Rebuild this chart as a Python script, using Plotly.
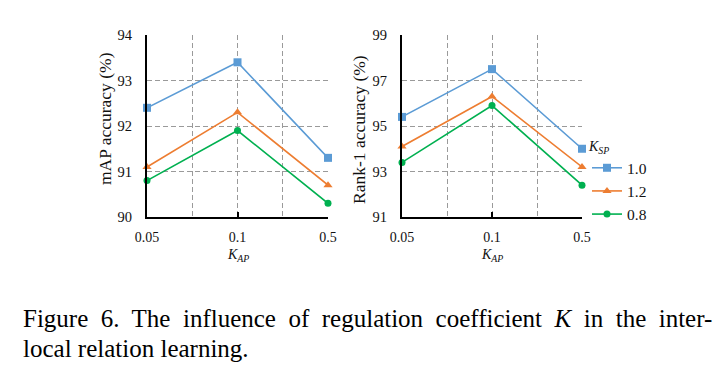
import plotly.graph_objects as go

k_ap = ["0.05", "0.1", "0.5"]
series_names = ["1.0", "1.2", "0.8"]
map_values = [
    [92.4, 93.4, 91.3],
    [91.1, 92.3, 90.7],
    [90.8, 91.9, 90.3],
]
rank1_values = [
    [95.4, 97.5, 94.0],
    [94.1, 96.3, 93.2],
    [93.4, 95.9, 92.4],
]
map_ticks = [90, 91, 92, 93, 94]
rank1_ticks = [91, 93, 95, 97, 99]
caption_line1 = "Figure 6. The influence of regulation coefficient <i>K</i> in the inter-"
caption_line2 = "local relation learning."

colors = ["#5B9BD5", "#ED7D31", "#00B050"]
symbols = ["square", "triangle-up", "circle"]

W, H = 724, 373
OFF = 8  # page body margin


def fx(px):
    return (px - OFF) / W


def fy(py):
    return 1 - (py - OFF) / H


fig = go.Figure()

xpos = list(range(len(k_ap)))
for i, name in enumerate(series_names):
    fig.add_trace(go.Scatter(
        x=xpos, y=map_values[i], mode="lines+markers", name=name,
        line=dict(color=colors[i], width=1.6),
        marker=dict(symbol=symbols[i], size=8 if i < 2 else 7, color=colors[i]),
        xaxis="x", yaxis="y", showlegend=False, cliponaxis=False))
for i, name in enumerate(series_names):
    fig.add_trace(go.Scatter(
        x=xpos, y=rank1_values[i], mode="lines+markers", name=name,
        line=dict(color=colors[i], width=1.6),
        marker=dict(symbol=symbols[i], size=8 if i < 2 else 7, color=colors[i]),
        xaxis="x2", yaxis="y2", showlegend=True, cliponaxis=False))

serif = "Liberation Serif"
grid = "#9A9A9A"
dash = "5px,3px"


def xaxis(domain, anchor):
    return dict(domain=domain, anchor=anchor, range=[0, 2],
                tickvals=xpos, ticktext=k_ap,
                showgrid=True, gridcolor=grid, griddash=dash, gridwidth=1.2,
                minor=dict(tickvals=[0.5, 1.5], showgrid=True, gridcolor=grid,
                           griddash=dash, gridwidth=1.2, ticks=""),
                showline=True, linecolor="black", linewidth=2,
                ticks="inside", ticklen=5, tickwidth=1.5, tickcolor="black",
                zeroline=False,
                tickfont=dict(family=serif, size=14, color="#111"),
                ticklabelstandoff=6)


def yaxis(domain, anchor, ticks):
    return dict(domain=domain, anchor=anchor, range=[ticks[0], ticks[-1]],
                tickvals=ticks, showgrid=True, gridcolor=grid, griddash=dash,
                gridwidth=1.2, showline=True, linecolor="black", linewidth=2,
                zeroline=False, ticks="",
                tickfont=dict(family=serif, size=14.5, color="#111"),
                ticklabelstandoff=10)


ydom = [fy(217), fy(35)]
fig.update_layout(
    width=W, height=H, margin=dict(l=0, r=0, t=0, b=0, autoexpand=False),
    paper_bgcolor="white", plot_bgcolor="white",
    xaxis=xaxis([fx(147), fx(328)], "y"),
    yaxis=yaxis(ydom, "x", map_ticks),
    xaxis2=xaxis([fx(402), fx(582)], "y2"),
    yaxis2=yaxis(ydom, "x2", rank1_ticks),
    legend=dict(x=fx(587), y=fy(133), xanchor="left", yanchor="top",
                title=dict(text="<i>K<sub>SP</sub></i>", font=dict(family=serif, size=14)),
                font=dict(family=serif, size=15.5, color="#111"),
                bgcolor="rgba(0,0,0,0)", itemwidth=30, tracegroupgap=0),
    showlegend=True,
)

ann = []
ann.append(dict(text="mAP accuracy (%)", x=fx(105), y=fy(119), xref="paper", yref="paper",
                textangle=-90, showarrow=False, font=dict(family=serif, size=17.5, color="#111"),
                xanchor="center", yanchor="middle"))
ann.append(dict(text="Rank-1 accuracy (%)", x=fx(359), y=fy(130), xref="paper", yref="paper",
                textangle=-90, showarrow=False, font=dict(family=serif, size=17.5, color="#111"),
                xanchor="center", yanchor="middle"))
for cx in [(147 + 328) / 2, (402 + 582) / 2]:
    ann.append(dict(text="<i>K<sub>AP</sub></i>", x=fx(cx), y=fy(255), xref="paper", yref="paper",
                    showarrow=False, font=dict(family=serif, size=14, color="#111"),
                    xanchor="center", yanchor="middle"))
# justified caption: widen inter-word spacing
ann.append(dict(text=caption_line1.replace(" ", "\u00a0 "),
                x=fx(21), y=fy(318.5), xref="paper", yref="paper", showarrow=False,
                font=dict(family=serif, size=25, color="black"), xanchor="left", yanchor="middle"))
ann.append(dict(text=caption_line2,
                x=fx(21), y=fy(348.5), xref="paper", yref="paper", showarrow=False,
                font=dict(family=serif, size=25, color="black"), xanchor="left", yanchor="middle"))
fig.update_layout(annotations=ann)

fig.write_html("out.html")
